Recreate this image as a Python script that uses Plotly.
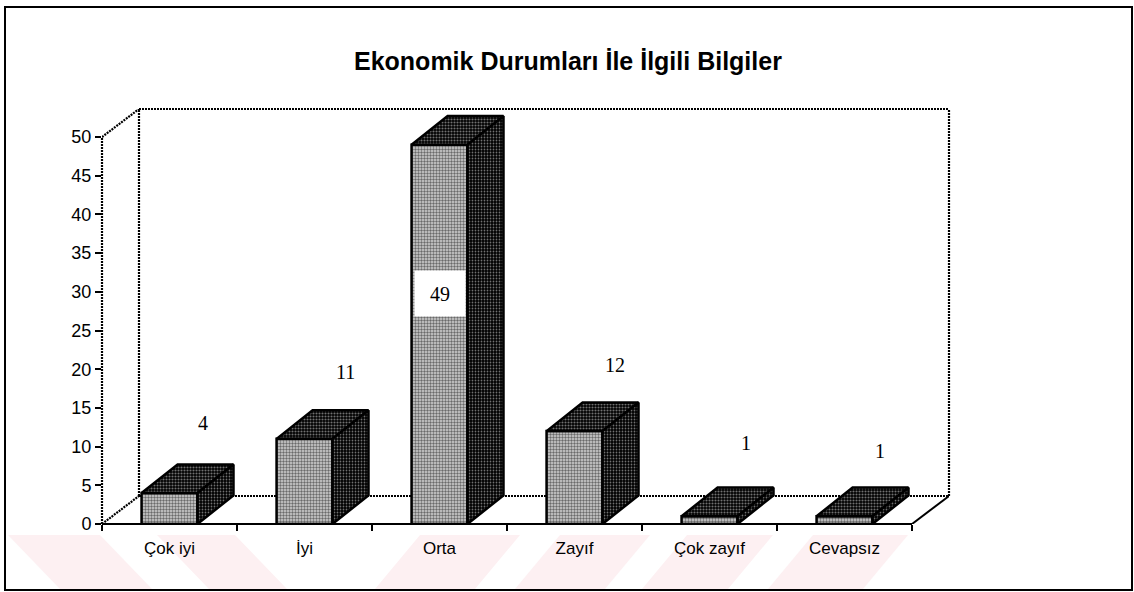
import plotly.graph_objects as go

# ---- data -----------------------------------------------------------------
categories = ["Çok iyi", "İyi", "Orta", "Zayıf", "Çok zayıf", "Cevapsız"]
counts = [4, 11, 49, 12, 1, 1]
y_ticks = [0, 5, 10, 15, 20, 25, 30, 35, 40, 45, 50]
title_text = "Ekonomik Durumları İle İlgili Bilgiler"

# value-label placement: offset to the right of the bar centre / height in axis units
label_dx = [0.25, 0.30, 0.0, 0.30, 0.27, 0.26]
label_y = [13.0, 19.6, 29.8, 20.5, 10.5, 9.4]

# ---- geometry ---------------------------------------------------------------
W, H = 1134, 592
ML, MR, MT, MB = 102, 185, 109, 68
Y_MAX = 50
DX, DY = 0.274, 3.62      # depth of the 3-D box (category units, value units)
BDX, BDY = 0.267, 3.7     # depth of each bar
HALF = 0.207              # half width of a bar's front face
N = len(categories)

x_range = [-0.5, N - 0.5 + DX]
y_range = [0, Y_MAX + DY]


def px_x(px):
    return (px - ML) / (W - ML - MR)


def px_y(py):
    return (H - MB - py) / (H - MT - MB)


fig = go.Figure()

front_pat = dict(shape=".", bgcolor="#d4d4d4", fgcolor="black", size=3, solidity=0.5)
top_pat = dict(shape=".", bgcolor="black", fgcolor="#e0e0e0", size=3, solidity=0.4)
side_pat = dict(shape=".", bgcolor="black", fgcolor="#e0e0e0", size=3, solidity=0.28)
edge = dict(color="black", width=2.5)

for i, v in enumerate(counts):
    xl, xr = i - HALF, i + HALF
    faces = [
        ([xl, xr, xr, xl, xl], [0, 0, v, v, 0], front_pat),
        ([xl, xr, xr + BDX, xl + BDX, xl], [v, v, v + BDY, v + BDY, v], top_pat),
        ([xr, xr + BDX, xr + BDX, xr, xr], [0, BDY, v + BDY, v, 0], side_pat),
    ]
    for fx, fy, pat in faces:
        fig.add_trace(go.Scatter(
            x=fx, y=fy, mode="lines", fill="toself",
            fillcolor="white", fillpattern=pat, line=edge,
            hoverinfo="skip", showlegend=False,
        ))

# ---- 3-D frame (walls and floor) -------------------------------------------
dotted = dict(color="black", width=2.2, dash="2px,1px")
solid = dict(color="black", width=2)
x0, x1 = -0.5, N - 0.5
frame_lines = [
    # front-left edge
    dict(xref="x domain", yref="y", x0=0, x1=0, y0=0, y1=Y_MAX, line=dotted),
    # top-left diagonal
    dict(xref="x", yref="y", x0=x0, x1=x0 + DX, y0=Y_MAX, y1=Y_MAX + DY, line=dotted),
    # back wall top
    dict(xref="x", yref="y domain", x0=x0 + DX, x1=x1 + DX, y0=1, y1=1, line=dotted),
    # back wall right edge
    dict(xref="x domain", yref="y", x0=1, x1=1, y0=DY, y1=Y_MAX + DY, line=dotted),
    # back wall left edge
    dict(xref="x", yref="y", x0=x0 + DX, x1=x0 + DX, y0=DY, y1=Y_MAX + DY, line=dotted),
    # back floor edge
    dict(xref="x", yref="y", x0=x0 + DX, x1=x1 + DX, y0=DY, y1=DY, line=dotted),
    # floor left diagonal
    dict(xref="x", yref="y", x0=x0, x1=x0 + DX, y0=0, y1=DY, line=dotted),
    # floor right diagonal
    dict(xref="x", yref="y", x0=x1, x1=x1 + DX, y0=0, y1=DY, line=solid),
    # front floor edge
    dict(xref="x", yref="y domain", x0=x0, x1=x1, y0=0, y1=0, line=solid),
]
for ln in frame_lines:
    fig.add_shape(type="line", layer="below", **ln)

# ---- faint diagonal watermark band along the bottom -------------------------
pink = "#fdf0f2"
top_py, bot_py = 535, 589
bands = [
    ((8, 100), 52), ((157, 235), 52),
    ((420, 520), -45), ((560, 650), -45), ((687, 773), -45), ((813, 908), -45),
]
for (a, b), s in bands:
    pts = [(a, top_py), (b, top_py), (b + s, bot_py), (a + s, bot_py)]
    pts = [(max(p[0], 6), p[1]) for p in pts]
    path = "M " + " L ".join(f"{px_x(px):.5f},{px_y(py):.5f}" for px, py in pts) + " Z"
    fig.add_shape(type="path", path=path, xref="paper", yref="paper",
                  fillcolor=pink, line=dict(width=0), layer="below")

# outer border
fig.add_shape(type="rect", xref="paper", yref="paper",
              x0=px_x(5), x1=px_x(1132), y0=px_y(590), y1=px_y(7),
              line=dict(color="black", width=2), layer="above")

# ---- value labels -----------------------------------------------------------
for i, v in enumerate(counts):
    inside = label_y[i] < v
    ann = dict(
        x=i + label_dx[i], y=label_y[i], xref="x", yref="y",
        text=str(v), showarrow=False,
        font=dict(family="Liberation Serif, Times New Roman, serif", size=20, color="black"),
    )
    if inside:
        ann.update(bgcolor="white", width=48, height=43, borderpad=1)
    fig.add_annotation(**ann)

# title
fig.add_annotation(
    x=px_x(568), y=px_y(45), xref="paper", yref="paper",
    text=f"<b>{title_text}</b>", showarrow=False,
    font=dict(family="Liberation Sans, Arial, sans-serif", size=25, color="black"),
)

axis_font = "Liberation Sans, Arial, sans-serif"
fig.update_layout(
    width=W, height=H,
    margin=dict(l=ML, r=MR, t=MT, b=MB, pad=0),
    paper_bgcolor="white", plot_bgcolor="white",
    showlegend=False,
    xaxis=dict(
        range=x_range, tickmode="array", tickvals=list(range(N)), ticktext=categories,
        ticks="", showgrid=False, zeroline=False, showline=False,
        tickfont=dict(family=axis_font, size=17, color="black"),
        ticklabelstandoff=12,
        minor=dict(tickmode="array", tickvals=[k - 0.5 for k in range(N + 1)],
                   ticks="outside", ticklen=6, tickwidth=1.5, tickcolor="black",
                   showgrid=False),
    ),
    yaxis=dict(
        range=y_range, tickmode="array", tickvals=y_ticks,
        ticks="outside", ticklen=6, tickwidth=1.5, tickcolor="black",
        showgrid=False, zeroline=False, showline=False,
        tickfont=dict(family=axis_font, size=18, color="black"),
    ),
)

fig.write_html("out.html")
